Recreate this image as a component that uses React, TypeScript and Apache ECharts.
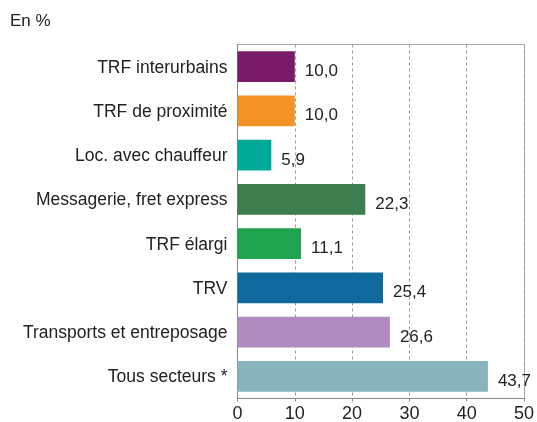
import React, { useEffect, useRef } from "react";
import * as echarts from "echarts";

const categories = [
  "TRF interurbains",
  "TRF de proximité",
  "Loc. avec chauffeur",
  "Messagerie, fret express",
  "TRF élargi",
  "TRV",
  "Transports et entreposage",
  "Tous secteurs *",
];
const values = [10.0, 10.0, 5.9, 22.3, 11.1, 25.4, 26.6, 43.7];
const colors = ["#7A1A6B", "#F39325", "#00A898", "#3E7D4E", "#1FA34F", "#10699D", "#B08BC0", "#8AB4BD"];
const xTicks = [0, 10, 20, 30, 40, 50];

export default function App() {
  const ref = useRef<HTMLDivElement>(null);
  useEffect(() => {
    if (!ref.current) return;
    const chart = echarts.init(ref.current, undefined, { renderer: "svg" });
    const font = "Liberation Sans, Arial, sans-serif";
    chart.setOption({
      animation: false,
      textStyle: { fontFamily: font },
      graphic: [
        {
          type: "text",
          left: 10,
          top: 12,
          style: { text: "En %", fontSize: 17, fill: "#222", fontFamily: font },
        },
        {
          type: "rect",
          shape: { x: 237.5, y: 44.5, width: 287, height: 354 },
          style: { fill: "none", stroke: "#aaa", lineWidth: 1 },
          silent: true,
          z: -1,
        },
      ],
      grid: { left: 237.5, right: 12.5, top: 44.5, bottom: 23.5, containLabel: false },
      xAxis: {
        type: "value",
        min: xTicks[0],
        max: xTicks[xTicks.length - 1],
        interval: 10,
        axisLine: { show: true, lineStyle: { color: "#888" } },
        axisTick: { show: true, length: 3, lineStyle: { color: "#888" } },
        axisLabel: { fontSize: 18, color: "#222", margin: 5, fontFamily: font },
        splitLine: { show: true, lineStyle: { type: [3, 3], color: "#999" } },
      },
      yAxis: {
        type: "category",
        data: categories,
        inverse: true,
        axisLine: { show: true, lineStyle: { color: "#888" } },
        axisTick: { show: false },
        axisLabel: { fontSize: 17.5, color: "#222", margin: 10, fontFamily: font, padding: [3, 0, 0, 0] },
      },
      series: [
        {
          type: "bar",
          data: values.map((v, i) => ({ value: v, itemStyle: { color: colors[i] } })),
          barCategoryGap: "30%",
          label: {
            show: true,
            position: "right",
            distance: 10,
            offset: [0, 4],
            fontSize: 17,
            color: "#222",
            fontFamily: font,
            formatter: (p: any) => p.value.toFixed(1).replace(".", ","),
          },
        },
      ],
    });
    return () => chart.dispose();
  }, []);
  return <div ref={ref} style={{ position: "fixed", left: 0, top: 0, width: 537, height: 422 }} />;
}
